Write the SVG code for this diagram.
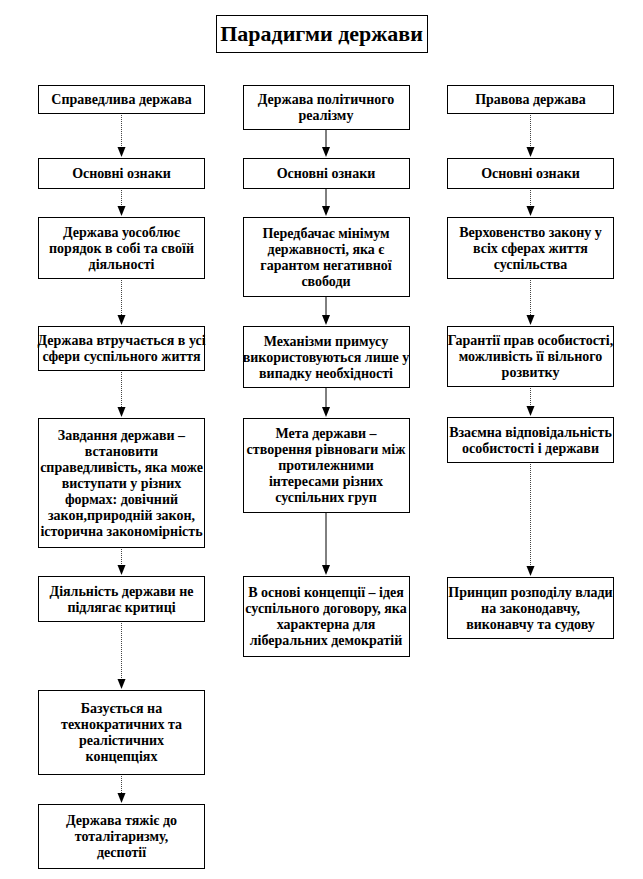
<svg xmlns="http://www.w3.org/2000/svg" width="643" height="879" viewBox="0 0 643 879">
<style>
  .box { fill: #fff; stroke: #000; stroke-width: 1; }
  .t { font-size: 14px; font-weight: 700; fill: #000; text-anchor: middle; }
  .title { font-size: 22px; font-weight: 700; fill: #000; text-anchor: middle; }
  .dot { stroke: #444; stroke-width: 1; stroke-dasharray: 1 1; fill: none; }
  .sol { stroke: #000; stroke-width: 1; fill: none; }
</style>
<defs>
  <path id="arr" d="M-4,-10 L4,-10 L0,0 Z" fill="#000"/>
</defs>
<rect width="643" height="879" fill="#fff"/>

<g id="connectors">
  <line class="dot" x1="121.5" y1="113" x2="121.5" y2="150"/>
  <line class="dot" x1="121.5" y1="188" x2="121.5" y2="209"/>
  <line class="dot" x1="121.5" y1="278" x2="121.5" y2="318"/>
  <line class="dot" x1="121.5" y1="370" x2="121.5" y2="410"/>
  <line class="dot" x1="121.5" y1="547" x2="121.5" y2="568"/>
  <line class="dot" x1="121.5" y1="621" x2="121.5" y2="682"/>
  <line class="dot" x1="121.5" y1="774" x2="121.5" y2="796"/>
  <use href="#arr" x="121.5" y="157"/>
  <use href="#arr" x="121.5" y="216"/>
  <use href="#arr" x="121.5" y="325"/>
  <use href="#arr" x="121.5" y="417"/>
  <use href="#arr" x="121.5" y="575"/>
  <use href="#arr" x="121.5" y="689"/>
  <use href="#arr" x="121.5" y="803"/>

  <line class="sol" x1="326" y1="129" x2="326" y2="150"/>
  <line class="sol" x1="326" y1="188" x2="326" y2="209"/>
  <line class="sol" x1="326" y1="296" x2="326" y2="318"/>
  <line class="sol" x1="326" y1="387" x2="326" y2="410"/>
  <line class="sol" x1="326" y1="512" x2="326" y2="568"/>
  <use href="#arr" x="326" y="157"/>
  <use href="#arr" x="326" y="216"/>
  <use href="#arr" x="326" y="325"/>
  <use href="#arr" x="326" y="417"/>
  <use href="#arr" x="326" y="575"/>

  <line class="dot" x1="530.5" y1="113" x2="530.5" y2="150"/>
  <line class="dot" x1="530.5" y1="188" x2="530.5" y2="209"/>
  <line class="dot" x1="530.5" y1="278" x2="530.5" y2="318"/>
  <line class="dot" x1="530.5" y1="386" x2="530.5" y2="409"/>
  <line class="dot" x1="530.5" y1="462" x2="530.5" y2="569"/>
  <use href="#arr" x="530.5" y="157"/>
  <use href="#arr" x="530.5" y="216"/>
  <use href="#arr" x="530.5" y="325"/>
  <use href="#arr" x="530.5" y="416"/>
  <use href="#arr" x="530.5" y="576"/>
</g>

<g font-family="Liberation Serif, Times New Roman, Tinos, DejaVu Serif, serif">
<g id="title">
  <rect class="box" x="216.5" y="15.5" width="211" height="37"/>
  <text class="title" x="321.5" y="41">Парадигми держави</text>
</g>

<g id="c1n1">
  <rect class="box" x="38.5" y="85.5" width="166" height="28"/>
  <text class="t" x="121.5" y="104">Справедлива держава</text>
</g>
<g id="c1n2">
  <rect class="box" x="38.5" y="158.5" width="166" height="30"/>
  <text class="t" x="121.5" y="178">Основні ознаки</text>
</g>
<g id="c1n3">
  <rect class="box" x="38.5" y="217.5" width="166" height="61"/>
  <text class="t" x="121.5" y="236.5">Держава уособлює</text>
  <text class="t" x="121.5" y="252.5">порядок в собі та своїй</text>
  <text class="t" x="121.5" y="268.5">діяльності</text>
</g>
<g id="c1n4">
  <rect class="box" x="38.5" y="326.5" width="166" height="44"/>
  <text class="t" x="121.5" y="345">Держава втручається в усі</text>
  <text class="t" x="121.5" y="361">сфери суспільного  життя</text>
</g>
<g id="c1n5">
  <rect class="box" x="38.5" y="418.5" width="166" height="129"/>
  <text class="t" x="121.5" y="439.5">Завдання держави –</text>
  <text class="t" x="121.5" y="455.5">встановити</text>
  <text class="t" x="121.5" y="471.5">справедливість, яка може</text>
  <text class="t" x="121.5" y="487.5">виступати у різних</text>
  <text class="t" x="121.5" y="503.5">формах: довічний</text>
  <text class="t" x="121.5" y="519.5">закон,природній  закон,</text>
  <text class="t" x="121.5" y="535.5">історична закономірність</text>
</g>
<g id="c1n6">
  <rect class="box" x="38.5" y="576.5" width="166" height="45"/>
  <text class="t" x="121.5" y="595.5">Діяльність держави не</text>
  <text class="t" x="121.5" y="611.5">підлягає критиці</text>
</g>
<g id="c1n7">
  <rect class="box" x="38.5" y="690.5" width="166" height="84"/>
  <text class="t" x="121.5" y="713">Базується на</text>
  <text class="t" x="121.5" y="729">технократичних  та</text>
  <text class="t" x="121.5" y="745">реалістичних</text>
  <text class="t" x="121.5" y="761">концепціях</text>
</g>
<g id="c1n8">
  <rect class="box" x="38.5" y="804.5" width="166" height="64"/>
  <text class="t" x="121.5" y="825">Держава тяжіє до</text>
  <text class="t" x="121.5" y="841">тоталітаризму,</text>
  <text class="t" x="121.5" y="857">деспотії</text>
</g>

<g id="c2n1">
  <rect class="box" x="243.5" y="85.5" width="166" height="44"/>
  <text class="t" x="326" y="104">Держава політичного</text>
  <text class="t" x="326" y="120">реалізму</text>
</g>
<g id="c2n2">
  <rect class="box" x="243.5" y="158.5" width="166" height="30"/>
  <text class="t" x="326" y="178">Основні ознаки</text>
</g>
<g id="c2n3">
  <rect class="box" x="243.5" y="217.5" width="166" height="79"/>
  <text class="t" x="326" y="237.5">Передбачає мінімум</text>
  <text class="t" x="326" y="253.5">державності, яка є</text>
  <text class="t" x="326" y="269.5">гарантом негативної</text>
  <text class="t" x="326" y="285.5">свободи</text>
</g>
<g id="c2n4">
  <rect class="box" x="243.5" y="326.5" width="166" height="61"/>
  <text class="t" x="326" y="345.5">Механізми примусу</text>
  <text class="t" x="326" y="361.5">використовуються лише у</text>
  <text class="t" x="326" y="377.5">випадку необхідності</text>
</g>
<g id="c2n5">
  <rect class="box" x="243.5" y="418.5" width="166" height="94"/>
  <text class="t" x="326" y="438">Мета держави –</text>
  <text class="t" x="326" y="454">створення рівноваги  між</text>
  <text class="t" x="326" y="470">протилежними</text>
  <text class="t" x="326" y="486">інтересами різних</text>
  <text class="t" x="326" y="502">суспільних  груп</text>
</g>
<g id="c2n6">
  <rect class="box" x="243.5" y="576.5" width="166" height="80"/>
  <text class="t" x="326" y="597">В основі концепції  – ідея</text>
  <text class="t" x="326" y="613">суспільного  договору, яка</text>
  <text class="t" x="326" y="629">характерна для</text>
  <text class="t" x="326" y="645">ліберальних  демократій</text>
</g>

<g id="c3n1">
  <rect class="box" x="447.5" y="85.5" width="166" height="28"/>
  <text class="t" x="530.5" y="104">Правова держава</text>
</g>
<g id="c3n2">
  <rect class="box" x="447.5" y="158.5" width="166" height="30"/>
  <text class="t" x="530.5" y="178">Основні ознаки</text>
</g>
<g id="c3n3">
  <rect class="box" x="447.5" y="217.5" width="166" height="61"/>
  <text class="t" x="530.5" y="236.5">Верховенство закону у</text>
  <text class="t" x="530.5" y="252.5">всіх сферах життя</text>
  <text class="t" x="530.5" y="268.5">суспільства</text>
</g>
<g id="c3n4">
  <rect class="box" x="447.5" y="326.5" width="166" height="60"/>
  <text class="t" x="530.5" y="345">Гарантії прав особистості,</text>
  <text class="t" x="530.5" y="361">можливість її вільного</text>
  <text class="t" x="530.5" y="377">розвитку</text>
</g>
<g id="c3n5">
  <rect class="box" x="447.5" y="417.5" width="166" height="45"/>
  <text class="t" x="530.5" y="436.5">Взаємна відповідальність</text>
  <text class="t" x="530.5" y="452.5">особистості і держави</text>
</g>
<g id="c3n6">
  <rect class="box" x="447.5" y="577.5" width="166" height="61"/>
  <text class="t" x="530.5" y="596.5">Принцип  розподілу влади</text>
  <text class="t" x="530.5" y="612.5">на законодавчу,</text>
  <text class="t" x="530.5" y="628.5">виконавчу та судову</text>
</g>
</g>
</svg>
